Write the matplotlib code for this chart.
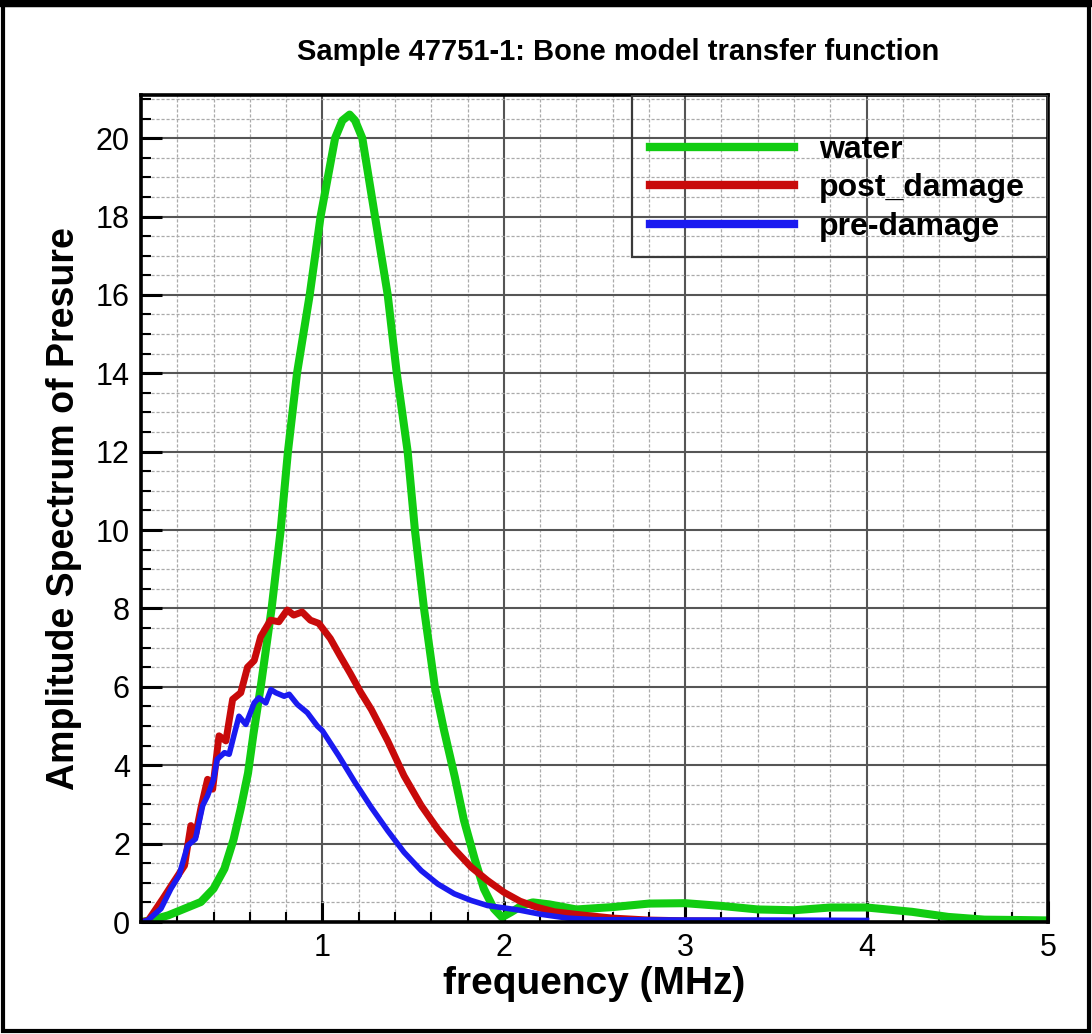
import numpy as np
import matplotlib
matplotlib.use("Agg")
import matplotlib.pyplot as plt
from matplotlib.patches import Rectangle
from matplotlib.lines import Line2D
from matplotlib.ticker import MultipleLocator

plt.rcParams['font.family'] = ['Liberation Sans', 'DejaVu Sans']

# water reference (green)
water_f = [0.0, 0.05, 0.15, 0.24, 0.33, 0.40, 0.46, 0.51, 0.55, 0.59, 0.62, 0.66, 0.72, 0.77,
           0.81, 0.86, 0.93, 0.99, 1.07, 1.11, 1.15, 1.18, 1.22, 1.29, 1.36, 1.41, 1.47, 1.51,
           1.56, 1.62, 1.67, 1.73, 1.78, 1.84, 1.89, 1.945, 1.99, 2.04, 2.10, 2.16, 2.25, 2.40,
           2.60, 2.80, 3.00, 3.20, 3.40, 3.60, 3.80, 4.00, 4.25, 4.45, 4.65, 4.85, 5.0]
water_a = [0.0, 0.04, 0.17, 0.34, 0.51, 0.85, 1.36, 2.1, 2.9, 3.8, 4.8, 6.0, 8.0, 10.0,
           12.0, 14.0, 16.0, 18.0, 20.0, 20.45, 20.6, 20.45, 20.0, 18.0, 16.0, 14.0, 12.0, 10.0,
           8.0, 6.0, 4.9, 3.7, 2.6, 1.6, 0.85, 0.34, 0.12, 0.25, 0.42, 0.5, 0.45, 0.32,
           0.38, 0.47, 0.48, 0.41, 0.32, 0.30, 0.37, 0.37, 0.26, 0.13, 0.06, 0.05, 0.04]

# post_damage (red)
post_f = [0.0, 0.04, 0.12, 0.18, 0.24, 0.275, 0.30, 0.33, 0.367, 0.395, 0.43, 0.468, 0.505,
          0.55, 0.587, 0.624, 0.66, 0.714, 0.76, 0.806, 0.842, 0.888, 0.934, 0.98, 1.044, 1.10,
          1.154, 1.21, 1.27, 1.36, 1.45, 1.545, 1.636, 1.727, 1.82, 1.91, 2.0, 2.09, 2.18,
          2.28, 2.43, 2.6, 2.8, 3.0, 3.4]
post_a = [0.0, 0.04, 0.59, 1.02, 1.44, 2.46, 2.2, 2.9, 3.64, 3.39, 4.75, 4.62, 5.68,
          5.85, 6.5, 6.67, 7.28, 7.70, 7.66, 7.96, 7.83, 7.91, 7.70, 7.62, 7.23, 6.77,
          6.34, 5.87, 5.42, 4.62, 3.73, 2.97, 2.37, 1.86, 1.40, 1.06, 0.76, 0.53, 0.38,
          0.26, 0.18, 0.10, 0.05, 0.03, 0.02]

# pre-damage (blue)
pre_f = [0.0, 0.037, 0.11, 0.165, 0.21, 0.257, 0.30, 0.34, 0.367, 0.40, 0.42, 0.46, 0.486,
         0.514, 0.54, 0.578, 0.624, 0.65, 0.688, 0.716, 0.743, 0.789, 0.817, 0.862, 0.917,
         0.972, 1.0, 1.09, 1.18, 1.27, 1.36, 1.45, 1.545, 1.636, 1.727, 1.82, 1.91, 2.0,
         2.09, 2.2, 2.35, 2.5, 3.0, 3.5, 4.0]
pre_a = [0.0, 0.04, 0.34, 0.85, 1.19, 1.95, 2.12, 2.97, 3.22, 3.64, 4.15, 4.32, 4.28,
         4.79, 5.25, 5.04, 5.59, 5.72, 5.59, 5.93, 5.85, 5.76, 5.81, 5.55, 5.34,
         5.0, 4.88, 4.24, 3.56, 2.92, 2.33, 1.78, 1.31, 0.97, 0.72, 0.55, 0.42, 0.36,
         0.30, 0.2, 0.1, 0.06, 0.05, 0.05, 0.04]

x_ticks = [1, 2, 3, 4, 5]
y_ticks = list(range(0, 21, 2))

fig = plt.figure(figsize=(10.92, 10.34), dpi=100)
ax = fig.add_axes([141/1092, 1 - 922/1034, (1048-141)/1092, (922-95)/1034])

ax.plot(water_f, water_a, color='#11cc11', lw=5.8, label='water', solid_joinstyle='round')
ax.plot(post_f, post_a, color='#c80a0a', lw=5.0, label='post_damage', solid_joinstyle='round')
ax.plot(pre_f, pre_a, color='#1a1af0', lw=4.0, label='pre-damage', solid_joinstyle='round')

ax.set_xlim(0, 5)
ax.set_ylim(0, 21.1)
ax.set_xticks(x_ticks)
ax.set_yticks(y_ticks)
ax.xaxis.set_minor_locator(MultipleLocator(0.2))
ax.yaxis.set_minor_locator(MultipleLocator(0.5))

ax.set_axisbelow(True)
ax.grid(which='major', color='#555555', lw=1.5, ls='-')
ax.grid(which='minor', color='#aaaaaa', lw=0.9, ls=(0, (2.5, 1.5)))

ax.tick_params(which='major', direction='in', length=15, width=2.2, labelsize=22, pad=8)
ax.tick_params(which='minor', direction='in', length=7, width=1.5)
for s in ax.spines.values():
    s.set_linewidth(2.6)
    s.set_color('black')

ax.set_xlabel('frequency (MHz)', fontsize=28, fontweight='bold', labelpad=2)
ax.set_ylabel('Amplitude Spectrum of Presure', fontsize=27, fontweight='bold', labelpad=10)

fig.text(618/1092, 1 - 52/1034, 'Sample 47751-1: Bone model transfer function',
         ha='center', va='center', fontsize=21, fontweight='bold')

# legend box drawn separately, legend itself frameless
ax.add_patch(Rectangle((0.5413, 0.804), 0.4587, 0.196, transform=ax.transAxes,
                       fill=False, edgecolor='#3a3a3a', lw=1.6, zorder=3))
handles = [Line2D([], [], color='#11cc11', lw=6),
           Line2D([], [], color='#c80a0a', lw=6),
           Line2D([], [], color='#1a1af0', lw=6)]
leg = ax.legend(handles, ['water', 'post_damage', 'pre-damage'], loc='upper left',
                bbox_to_anchor=(0.561, 0.952), prop={'weight': 'bold', 'size': 23},
                handlelength=4.5, handletextpad=0.8, labelspacing=0.27, borderpad=0.0,
                borderaxespad=0.0, frameon=False)

fig.patches.append(Rectangle((0.003, 0.003), 0.994, 0.992, transform=fig.transFigure,
                             fill=False, edgecolor='black', lw=3))
fig.add_artist(Line2D([0, 1], [0.997, 0.997], transform=fig.transFigure, color='black', lw=6))

fig.savefig('out.png', dpi=100)
